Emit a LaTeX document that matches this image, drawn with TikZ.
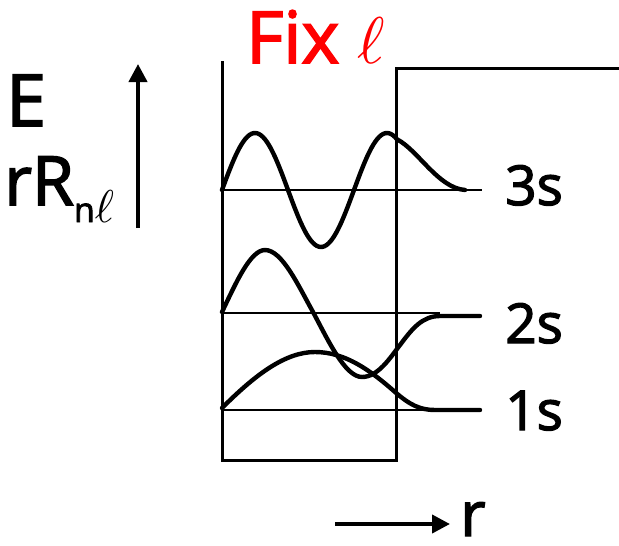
\documentclass[tikz,border=0pt]{standalone}
\usepackage{graphicx}
\usepackage{fontspec}
\setmainfont{Open Sans}
\newfontfamily\labfont{Open Sans}[FakeBold=2.3]
\newcommand{\myell}[1]{\scalebox{#1}{\normalsize$\ell$}}
\usetikzlibrary{arrows.meta}
\tikzset{
  wall/.style={line width=3pt, line cap=rect},
  level/.style={line width=1.8pt},
  wave/.style={line width=4.4pt, line cap=round, line join=round},
  bigarrow/.style={line width=4pt, -{Triangle[length=18pt,width=18pt]}},
  lab/.style={inner sep=0pt, anchor=base west},
}
\begin{document}
\begin{tikzpicture}[x=1pt,y=-1pt]
\useasboundingbox (0,0) rectangle (619,546);
% well
\draw[wall] (222,62) -- (222,460) -- (396,460) -- (396,68) -- (619,68);
% levels
\draw[level] (222,190) -- (482,190);
\draw[level] (222,313) -- (440,313);
\draw[level] (222,410) -- (480,410);
% 3s
\draw[wave] plot[variable=\t, domain=0:175, samples=90] ({222+\t}, {190-57*sin(2.72727*\t)})
  .. controls (418,150) and (438,188) .. (465,190);
% 2s
\draw[wave] (222,312) .. controls (235,285) and (250,250) .. (265,250)
  .. controls (282,250) and (298,285) .. (313,312)
  .. controls (328,340) and (345,377) .. (362,377)
  .. controls (378,377) and (390,358) .. (400,345)
  .. controls (412,329) and (422,316) .. (440,316) -- (480,316);
% 1s
\draw[wave] (222,408) .. controls (255,375) and (285,352) .. (315,352)
  .. controls (345,352) and (370,370) .. (395,392)
  .. controls (410,405) and (420,410) .. (435,410) -- (480,410);
% labels
\node[lab, font=\labfont\fontsize{72}{80}\selectfont] (E) at (6,126) {E};
\node[lab, font=\labfont\fontsize{68}{76}\selectfont] (rR) at (4,205) {rR\raisebox{-17pt}{\fontsize{34}{40}\selectfont n\myell{4.6}}};
\node[lab, red, font=\labfont\fontsize{72}{80}\selectfont] (fix) at (246,63) {Fix \myell{6.6}};
\node[lab, font=\labfont\fontsize{55}{60}\selectfont] (l3) at (505,205) {3s};
\node[lab, font=\labfont\fontsize{55}{60}\selectfont] (l2) at (505,343) {2s};
\node[lab, font=\labfont\fontsize{55}{60}\selectfont] (l1) at (505,430) {1s};
\node[lab, font=\labfont\fontsize{62}{66}\selectfont] (r) at (460,536) {r};
% axes arrows
\coordinate (ea) at (138,228);
\coordinate (eb) at (138,64);
\coordinate (ra) at (335,524);
\coordinate (rb) at (450,524);
\draw[bigarrow] (ea) -- (eb);
\draw[bigarrow] (ra) -- (rb);
\end{tikzpicture}
\end{document}
